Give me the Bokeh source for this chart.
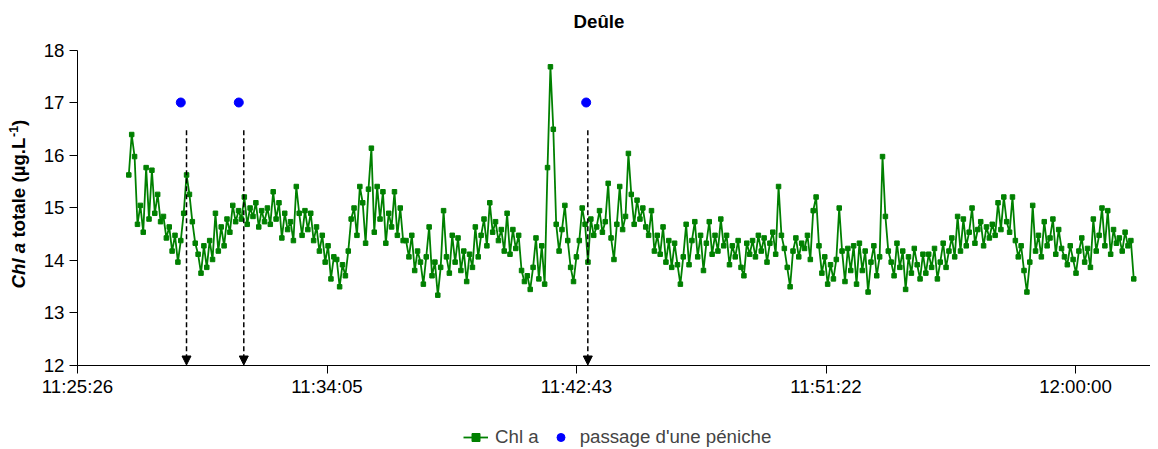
import numpy as np
from bokeh.plotting import figure
from bokeh.models import (Range1d, FixedTicker, Legend, LegendItem, Arrow,
                          NormalHead, Label, ColumnDataSource, LinearAxis)
from bokeh.embed import file_html
from bokeh.resources import INLINE

# ---------------- data ----------------
# time in seconds since midnight; one reading every 6 s
start_s = 41233.0
step_s = 6.0
chl_a = [
    15.62, 16.39, 15.97, 14.68, 15.04, 14.53, 15.76, 14.78, 15.71, 14.89, 15.25, 14.73,
    14.83, 14.42, 14.63, 14.17, 14.47, 13.96, 14.37, 14.89, 15.62, 15.25, 14.73, 14.32,
    14.11, 13.75, 14.27, 13.86, 14.37, 14.01, 14.89, 14.17, 14.63, 14.27, 14.78, 14.53,
    15.04, 14.73, 14.94, 14.78, 15.20, 14.68, 14.99, 14.83, 15.09, 14.63, 14.94, 14.73,
    14.99, 14.68, 15.30, 14.78, 15.09, 14.42, 14.89, 14.58, 14.73, 14.37, 15.40, 14.89,
    14.47, 14.94, 14.58, 14.89, 14.37, 14.63, 14.17, 14.47, 13.96, 14.27, 13.64, 14.06,
    14.01, 13.49, 13.91, 13.70, 14.17, 14.78, 14.99, 14.47, 15.40, 15.09, 14.32, 15.35,
    16.13, 14.53, 15.40, 14.78, 15.30, 14.32, 14.89, 14.63, 15.30, 14.47, 14.99, 14.37,
    14.37, 14.06, 14.47, 13.80, 14.17, 13.96, 13.54, 14.06, 14.63, 13.70, 13.96, 13.33,
    13.86, 14.94, 14.06, 13.75, 14.47, 13.96, 14.42, 13.80, 14.17, 13.59, 14.11, 13.86,
    14.63, 14.06, 14.47, 14.78, 14.27, 15.09, 14.53, 14.73, 14.37, 14.58, 14.17, 14.89,
    14.11, 14.58, 14.22, 14.47, 13.80, 13.59, 13.70, 13.44, 13.86, 14.42, 13.64, 14.27,
    13.54, 15.76, 17.68, 16.49, 14.68, 14.17, 14.58, 15.04, 14.37, 13.86, 13.59, 14.06,
    14.37, 14.99, 14.68, 13.96, 14.78, 14.47, 14.63, 14.94, 14.53, 14.73, 15.46, 14.42,
    14.01, 14.68, 15.40, 14.58, 14.83, 16.03, 15.25, 14.68, 15.14, 14.78, 14.99, 14.63,
    14.47, 14.94, 14.17, 14.47, 14.11, 14.63, 13.96, 14.37, 13.86, 14.32, 13.91, 13.54,
    14.06, 14.68, 13.91, 14.37, 14.73, 14.06, 14.47, 13.80, 14.32, 14.73, 14.11, 14.47,
    14.17, 14.78, 14.27, 14.47, 13.91, 14.27, 14.06, 14.37, 13.86, 13.70, 14.32, 14.11,
    14.37, 14.06, 14.47, 14.17, 14.42, 13.96, 14.32, 14.53, 14.11, 15.40, 14.47, 14.22,
    13.86, 13.49, 14.17, 14.42, 14.06, 14.32, 14.22, 14.47, 14.01, 14.94, 15.20, 14.27,
    13.75, 14.06, 13.54, 13.91, 13.64, 14.01, 14.99, 14.17, 13.59, 14.22, 13.80, 14.27,
    13.54, 14.32, 13.80, 14.17, 13.39, 13.96, 14.27, 13.70, 14.06, 15.97, 14.83, 14.17,
    13.96, 13.70, 14.32, 13.86, 14.17, 13.44, 14.06, 13.75, 14.22, 13.91, 13.64, 14.11,
    13.75, 14.11, 13.86, 14.22, 13.64, 13.96, 14.32, 13.86, 14.17, 14.42, 14.06, 14.83,
    14.17, 14.78, 14.27, 14.53, 14.99, 14.32, 14.58, 14.73, 14.27, 14.63, 14.42, 14.68,
    14.47, 15.09, 14.58, 15.20, 14.73, 14.53, 15.20, 14.37, 14.06, 14.27, 13.80, 13.39,
    13.96, 15.04, 14.17, 14.47, 14.06, 14.73, 14.27, 14.42, 14.78, 14.11, 14.58, 14.22,
    14.06, 13.91, 14.27, 14.01, 13.75, 14.17, 14.42, 13.96, 14.22, 13.86, 14.78, 14.17,
    14.47, 14.99, 14.27, 14.94, 14.11, 14.58, 14.32, 14.42, 14.17, 14.53, 14.27, 14.37,
    13.64,
]
boat_times = [41341.0, 41461.5, 42183.3]      # passage d'une péniche
boat_level = [17.0, 17.0, 17.0]
arrow_times = [41352.9, 41471.9, 42186.7]
arrow_top = 16.47
arrow_bottom = 12.0
tick_positions = [41126.4, 41644.8, 42163.2, 42681.6, 43200.0]
tick_labels = ["11:25:26", "11:34:05", "11:42:43", "11:51:22", "12:00:00"]
y_ticks = [12, 13, 14, 15, 16, 17, 18]
x_axis_min, x_axis_max = 41126.4, 43355.8
y_axis_min, y_axis_max = 12.0, 18.0

# ---------------- layout (pixels) ----------------
W, H = 1150, 449
PX_PER_S = 0.4813
PX_PER_UNIT = 52.5
AXIS_LEFT_PX = 77.0
TOP_PX = 49.5

x_lo = x_axis_min - AXIS_LEFT_PX / PX_PER_S
x_hi = x_lo + W / PX_PER_S
y_hi = y_axis_max + TOP_PX / PX_PER_UNIT
y_lo = y_hi - H / PX_PER_UNIT


def px_x(px):
    return x_lo + px / PX_PER_S


def px_y(py):
    return y_hi - py / PX_PER_UNIT


FONT = "Liberation Sans"
FS = "18.7px"

times = start_s + step_s * np.arange(len(chl_a))
src = ColumnDataSource(dict(t=times, v=chl_a))
bsrc = ColumnDataSource(dict(t=boat_times, v=boat_level))

p = figure(width=W, height=H, output_backend="svg", toolbar_location=None,
           x_range=Range1d(x_lo, x_hi), y_range=Range1d(y_lo, y_hi),
           x_axis_type=None, y_axis_type=None, min_border=0)
p.outline_line_color = None
p.background_fill_color = "white"
p.border_fill_color = "white"

xaxis = LinearAxis(fixed_location=y_axis_min, bounds=(x_axis_min, x_axis_max),
                   ticker=FixedTicker(ticks=tick_positions),
                   major_label_overrides={t: l for t, l in zip(tick_positions, tick_labels)})
yaxis = LinearAxis(fixed_location=x_axis_min, bounds=(y_axis_min, y_axis_max),
                   ticker=FixedTicker(ticks=y_ticks))
for ax in (xaxis, yaxis):
    ax.major_label_text_font = FONT
    ax.major_label_text_font_size = FS
    ax.major_label_text_color = "black"
    ax.axis_line_color = "black"
    ax.axis_line_width = 1
    ax.major_tick_line_color = "black"
    ax.major_tick_out = 8
    ax.major_tick_in = 0
    ax.minor_tick_line_color = None
xaxis.major_label_standoff = 3
yaxis.major_label_standoff = 5
p.add_layout(xaxis, "below")
p.add_layout(yaxis, "left")

# series
ln = p.line("t", "v", source=src, line_color="#008000", line_width=1.8)
mk = p.scatter("t", "v", source=src, marker="square", size=4.5,
               fill_color="#008000", line_color="#008000")
bt = p.scatter("t", "v", source=bsrc, marker="circle", size=9,
               fill_color="#0000FF", line_color="#0000FF")

for t in arrow_times:
    p.add_layout(Arrow(x_start=t, y_start=arrow_top, x_end=t, y_end=arrow_bottom,
                       line_color="black", line_width=1.5, line_dash="5 3",
                       end=NormalHead(size=9, fill_color="black", line_color="black")))

# title
p.add_layout(Label(x=px_x(598.5), y=px_y(21), text="Deûle", text_align="center",
                   text_baseline="middle", text_font=FONT, text_font_size=FS,
                   text_font_style="bold", text_color="black"))

# y axis title: italic "Chl a", superscript "-1"
segments = [
    ("Chl a", 288.0, 17.5, FS, "bold italic"),
    ("totale (µg.L", 237.1, 17.5, FS, "bold"),
    ("-1", 136.5, 13.0, "12.5px", "bold"),
    (")", 125.4, 17.5, FS, "bold"),
]
for txt, py, px, fs, st in segments:
    p.add_layout(Label(x=px_x(px), y=px_y(py), text=txt, angle=90, angle_units="deg",
                       text_align="left", text_baseline="middle", text_font=FONT,
                       text_font_size=fs, text_font_style=st, text_color="black"))

legend = Legend(items=[LegendItem(label="Chl a", renderers=[ln, mk]),
                       LegendItem(label="passage d'une péniche", renderers=[bt])],
                orientation="horizontal", location=(463, 1),
                label_text_font=FONT, label_text_font_size=FS,
                glyph_width=25, glyph_height=20, label_height=20,
                label_standoff=7, spacing=9, padding=0, margin=0,
                border_line_color=None, background_fill_alpha=0)
p.add_layout(legend, "center")

open("out.html", "w").write(file_html(p, INLINE))
